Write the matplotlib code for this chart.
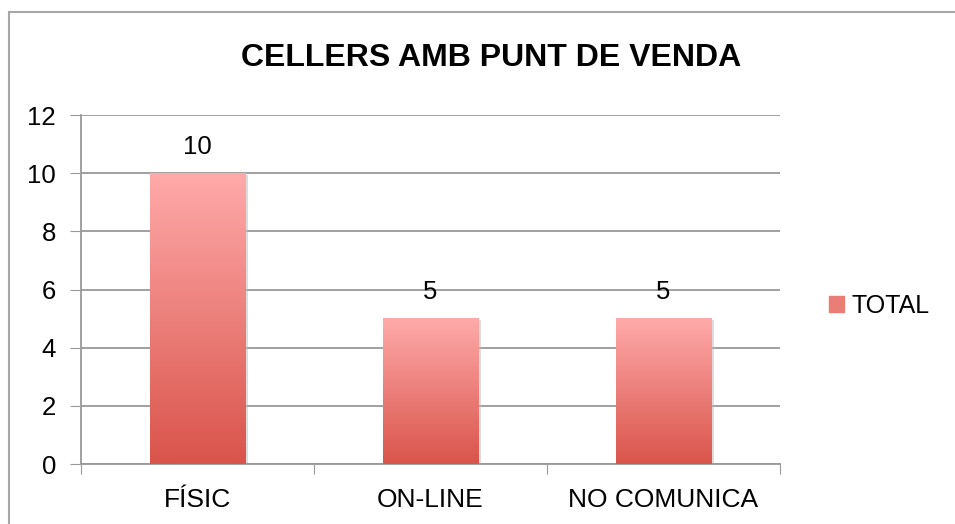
import matplotlib.pyplot as plt
import numpy as np
from matplotlib.colors import LinearSegmentedColormap
from matplotlib.patches import Rectangle

categories = ['FÍSIC', 'ON-LINE', 'NO COMUNICA']
values = [10, 5, 5]
series_name = 'TOTAL'

plt.rcParams['font.family'] = ['Liberation Sans', 'DejaVu Sans']

fig = plt.figure(figsize=(9.55, 5.24), dpi=100)
fig.patches.append(Rectangle((9 / 955, -0.1), 1.2, (1 - 12 / 524) + 0.1,
                             transform=fig.transFigure, fill=False,
                             edgecolor='#a6a6a6', linewidth=1.5))

ax = fig.add_axes([81 / 955, 1 - 464 / 524, 699 / 955, 349 / 524])

cmap = LinearSegmentedColormap.from_list('bar', ['#d9544b', '#ffaaaa'])
grad = np.linspace(0, 1, 256).reshape(-1, 1)
width = 0.41
x = np.arange(len(categories))
for xi, v in zip(x, values):
    # soft shadow
    ax.add_patch(Rectangle((xi - width / 2 + 0.01, -0.05), width, v,
                           color='#bbbbbb', alpha=0.5, zorder=2, linewidth=0))
    ax.imshow(grad, cmap=cmap, origin='lower', aspect='auto',
              extent=(xi - width / 2, xi + width / 2, 0, v), zorder=3)
    ax.text(xi, v + 0.5, str(v), ha='center', va='bottom', fontsize=18.5)

ax.set_xlim(-0.5, 2.5)
ax.set_ylim(0, 12)
ax.set_yticks(range(0, 13, 2))
ax.set_xticks([-0.5, 0.5, 1.5, 2.5])
ax.set_xticklabels([])
ax.set_xticks(x, minor=True)
ax.set_xticklabels(categories, minor=True, fontsize=19)
ax.tick_params(axis='x', which='minor', length=0, pad=17)
ax.tick_params(axis='x', which='major', length=7, color='#999999', direction='out')
ax.tick_params(axis='y', length=8, color='#999999', labelsize=18.5, pad=10)
ax.grid(axis='y', color='#999999', linewidth=1.3, zorder=0)
ax.set_axisbelow(True)
for s in ['top', 'right']:
    ax.spines[s].set_visible(False)
for s in ['left', 'bottom']:
    ax.spines[s].set_color('#999999')
    ax.spines[s].set_linewidth(1.3)

fig.text(491 / 955, 1 - 58 / 524, 'CELLERS AMB PUNT DE VENDA', ha='center',
         va='center', fontsize=23, fontweight='bold')

handle = Rectangle((0, 0), 1, 1, color='#ea7d75')
fig.legend([handle], [series_name], loc='center left',
           bbox_to_anchor=(806 / 955, 1 - 306 / 524), frameon=False,
           fontsize=18, handlelength=0.6, handleheight=0.6, handletextpad=0.3)

fig.savefig('out.png', dpi=100)
